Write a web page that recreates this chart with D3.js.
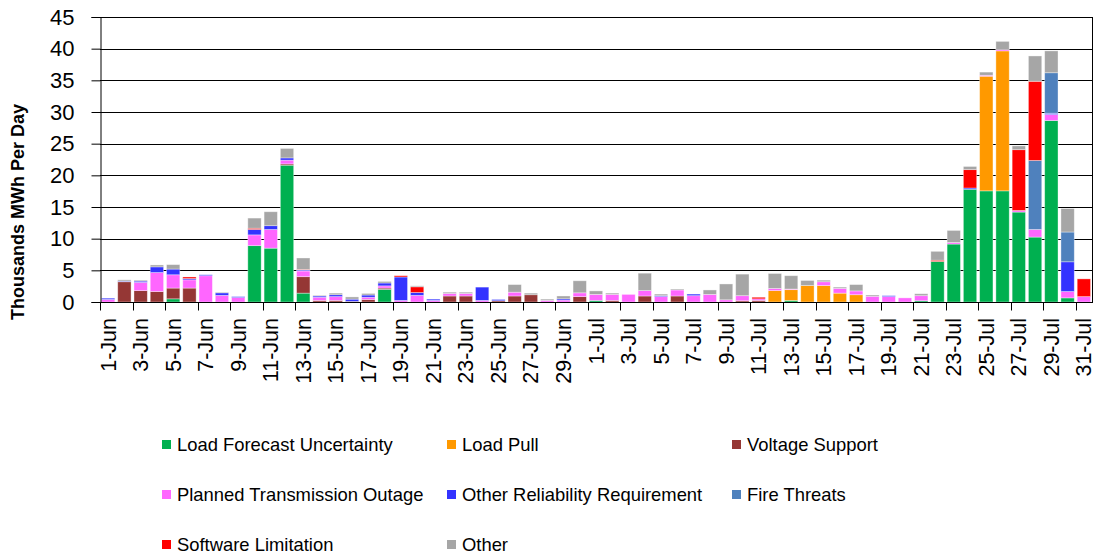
<!DOCTYPE html>
<html>
<head>
<meta charset="utf-8">
<script src="https://cdn.jsdelivr.net/npm/d3@7"></script>
<style>
  html, body { margin: 0; padding: 0; background: #fff; }
  svg { display: block; font-family: Arial, "Liberation Sans", sans-serif; }
</style>
</head>
<body>
<svg id="chart" width="1102" height="558"></svg>
<script>
// Daily exceptional dispatch volume by reason, June 1 – July 31 (thousands of MWh)
const days = [
  "1-Jun","2-Jun","3-Jun","4-Jun","5-Jun","6-Jun","7-Jun","8-Jun","9-Jun","10-Jun",
  "11-Jun","12-Jun","13-Jun","14-Jun","15-Jun","16-Jun","17-Jun","18-Jun","19-Jun","20-Jun",
  "21-Jun","22-Jun","23-Jun","24-Jun","25-Jun","26-Jun","27-Jun","28-Jun","29-Jun","30-Jun",
  "1-Jul","2-Jul","3-Jul","4-Jul","5-Jul","6-Jul","7-Jul","8-Jul","9-Jul","10-Jul",
  "11-Jul","12-Jul","13-Jul","14-Jul","15-Jul","16-Jul","17-Jul","18-Jul","19-Jul","20-Jul",
  "21-Jul","22-Jul","23-Jul","24-Jul","25-Jul","26-Jul","27-Jul","28-Jul","29-Jul","30-Jul",
  "31-Jul"
];

const loadForecastUncertainty = [
  0,0,0,0,0.5,0,0,0,0,8.9,
  8.5,21.6,1.4,0,0,0,0,2.0,0,0,
  0,0,0,0,0,0,0,0,0,0,
  0.25,0,0,0,0,0,0,0,0,0,
  0,0,0.25,0,0,0,0,0,0,0,
  0.2,6.4,9.15,17.8,17.55,17.55,14.2,10.25,28.65,0.65,
  0
];
const loadPull = [
  0,0,0,0,0,0,0,0,0,0,
  0,0,0,0,0,0,0,0,0,0,
  0,0,0,0,0,0,0,0,0,0,
  0,0,0,0,0,0,0,0,0,0,
  0,1.8,1.7,2.6,2.6,1.4,1.15,0,0,0,
  0,0,0,0,18.1,22.1,0,0,0,0,
  0
];
const voltageSupport = [
  0,3.2,1.8,1.65,1.7,2.2,0,0,0,0,
  0,0.2,2.6,0.25,0.25,0.1,0.4,0.2,0,0,
  0,0.95,0.95,0,0.2,0.95,1.15,0,0,0.85,
  0,0.25,0,0.95,0,0.95,0,0,0,0.2,
  0.25,0,0,0,0,0,0,0,0,0,
  0,0,0,0,0,0,0,0,0,0,
  0
];
const plannedTransmissionOutage = [
  0.4,0,1.3,3.0,2.1,1.3,4.15,1.05,0.7,1.7,
  2.95,0.6,0.9,0.5,0.6,0,0.35,0.35,0.25,1.05,
  0.25,0.4,0.4,0.25,0,0.6,0,0.25,0.3,0.6,
  0.95,0.95,1.2,0.85,0.85,0.95,1.0,1.2,0.35,0.8,
  0.25,0.35,0.1,0,0.6,0.75,0.6,0.9,0.85,0.65,
  0.8,0,0.25,0,0.15,0.2,0.25,1.2,0.95,1.0,
  0.85
];
const otherReliability = [
  0.2,0.1,0.2,0.9,0.9,0.2,0.15,0.4,0.15,0.85,
  0.6,0.35,0.15,0.2,0.3,0.35,0.35,0.45,3.7,0.45,
  0.2,0,0,2.1,0.2,0,0,0,0.2,0,
  0,0,0,0,0.15,0,0.25,0,0,0,
  0,0,0,0,0,0,0,0,0.15,0,
  0,0,0,0.2,0,0,0,0,0.2,4.7,
  0
];
const fireThreats = [
  0,0,0,0,0,0,0,0,0,0,
  0,0,0,0,0,0,0,0,0,0,
  0,0,0,0,0,0,0,0,0,0,
  0,0,0,0,0,0,0,0,0,0,
  0,0,0,0,0,0,0,0,0,0,
  0,0,0,0,0,0,0,10.9,6.4,4.7,
  0
];
const softwareLimitation = [
  0,0,0,0,0,0.25,0,0,0,0.2,
  0,0,0.1,0,0,0,0,0,0.2,0.9,
  0,0,0,0,0,0,0,0,0,0,
  0,0,0,0,0,0,0,0,0,0,
  0.25,0,0,0,0,0,0,0,0,0,
  0,0.2,0,2.9,0,0,9.6,12.5,0,0,
  2.8
];
const other = [
  0,0.2,0.15,0.3,0.7,0,0,0.1,0,1.6,
  2.2,1.5,1.8,0.1,0.25,0.35,0.25,0.25,0,0.15,
  0,0.2,0.2,0,0,1.2,0.25,0.2,0.45,1.9,
  0.55,0.2,0,2.75,0.25,0.15,0,0.7,2.5,3.4,
  0,2.35,2.1,0.8,0.25,0.2,1.0,0.2,0,0,
  0.3,1.4,1.9,0.5,0.5,1.3,0.6,4.0,3.45,3.7,
  0
];

const seriesNames = [
  "Load Forecast Uncertainty","Load Pull","Voltage Support",
  "Planned Transmission Outage","Other Reliability Requirement","Fire Threats",
  "Software Limitation","Other"
];
const seriesValues = [
  loadForecastUncertainty, loadPull, voltageSupport, plannedTransmissionOutage,
  otherReliability, fireThreats, softwareLimitation, other
];
const seriesColors = [
  "#00B050","#FF9900","#953735","#FF66FF","#3333FF","#4F81BD","#FF0000","#A6A6A6"
];
const yTicks = [0,5,10,15,20,25,30,35,40,45];

// One row per day for d3.stack
const rows = days.map((d, i) => {
  const r = { day: d };
  seriesNames.forEach((s, k) => { r[s] = seriesValues[k][i]; });
  return r;
});

const svg = d3.select("#chart");
const plot = { left: 100, right: 1092, top: 17, bottom: 302 };
const padInner = 0.18;

const x = d3.scaleBand()
  .domain(days)
  .range([plot.left, plot.right])
  .paddingInner(padInner)
  .paddingOuter(padInner / 2);

const y = d3.scaleLinear()
  .domain([0, 45])
  .range([plot.bottom, plot.top]);

// Horizontal gridlines
svg.append("g")
  .selectAll("line")
  .data(yTicks)
  .join("line")
  .attr("x1", plot.left).attr("x2", plot.right)
  .attr("y1", d => Math.round(y(d)) + 0.5).attr("y2", d => Math.round(y(d)) + 0.5)
  .attr("stroke", "#000").attr("stroke-width", 1);

// Stacked bars
const stacked = d3.stack().keys(seriesNames)(rows);
svg.append("g")
  .selectAll("g")
  .data(stacked)
  .join("g")
  .attr("fill", (d, i) => seriesColors[i])
  .selectAll("rect")
  .data(d => d.filter(p => p[1] - p[0] > 0))
  .join("rect")
  .attr("x", p => x(p.data.day))
  .attr("width", x.bandwidth())
  .attr("y", p => y(p[1]))
  .attr("height", p => y(p[0]) - y(p[1]))
  .attr("stroke", "#ffffff")
  .attr("stroke-opacity", 0.45)
  .attr("stroke-width", 0.8);

// Right border of the plot area
svg.append("line")
  .attr("x1", plot.right + 0.5).attr("x2", plot.right + 0.5)
  .attr("y1", plot.top).attr("y2", plot.bottom)
  .attr("stroke", "#000");

// Y axis
const yAxis = d3.axisLeft(y).tickValues(yTicks).tickSize(9).tickPadding(17);
const gy = svg.append("g")
  .attr("transform", `translate(${plot.left + 0.5},0)`)
  .call(yAxis);
gy.select(".domain").attr("stroke", "#000");
gy.selectAll(".tick line").attr("stroke", "#000");
gy.selectAll(".tick text")
  .attr("font-size", 22)
  .attr("fill", "#000")
  .attr("font-family", "Arial, 'Liberation Sans', sans-serif");

// X axis: tick marks on every second category boundary, labels on alternate days
const xAxisY = plot.bottom + 0.5;
svg.append("line")
  .attr("x1", plot.left).attr("x2", plot.right + 1)
  .attr("y1", xAxisY).attr("y2", xAxisY)
  .attr("stroke", "#000");

const step = x.step();
const boundaryIdx = d3.range(0, days.length, 2);
svg.append("g")
  .selectAll("line")
  .data(boundaryIdx)
  .join("line")
  .attr("x1", i => Math.round(x(days[i]) - step * padInner / 2) + 0.5)
  .attr("x2", i => Math.round(x(days[i]) - step * padInner / 2) + 0.5)
  .attr("y1", xAxisY).attr("y2", xAxisY + 8)
  .attr("stroke", "#000");

svg.append("g")
  .selectAll("text")
  .data(days.filter((d, i) => i % 2 === 0))
  .join("text")
  .attr("transform", d => `translate(${x(d) + x.bandwidth() / 2},${plot.bottom + 16}) rotate(-90)`)
  .attr("text-anchor", "end")
  .attr("dy", "0.35em")
  .attr("font-size", 21.5)
  .attr("fill", "#000")
  .text(d => d);

// Y axis title
svg.append("text")
  .attr("transform", `translate(18,212) rotate(-90)`)
  .attr("text-anchor", "middle")
  .attr("dy", "0.35em")
  .attr("font-size", 18)
  .attr("font-weight", "bold")
  .attr("fill", "#000")
  .text("Thousands MWh Per Day");

// Legend: three columns, three rows
const legendCols = [162, 447, 732];
const legendRows = [445, 495, 545];
const legend = svg.append("g")
  .selectAll("g")
  .data(seriesNames)
  .join("g")
  .attr("transform", (d, i) => `translate(${legendCols[i % 3]},${legendRows[Math.floor(i / 3)]})`);
legend.append("rect")
  .attr("x", 0).attr("y", -5)
  .attr("width", 9).attr("height", 9)
  .attr("fill", (d, i) => seriesColors[i]);
legend.append("text")
  .attr("x", 15)
  .attr("dy", "0.35em")
  .attr("font-size", 18.4)
  .attr("fill", "#000")
  .text(d => d);
</script>
</body>
</html>
